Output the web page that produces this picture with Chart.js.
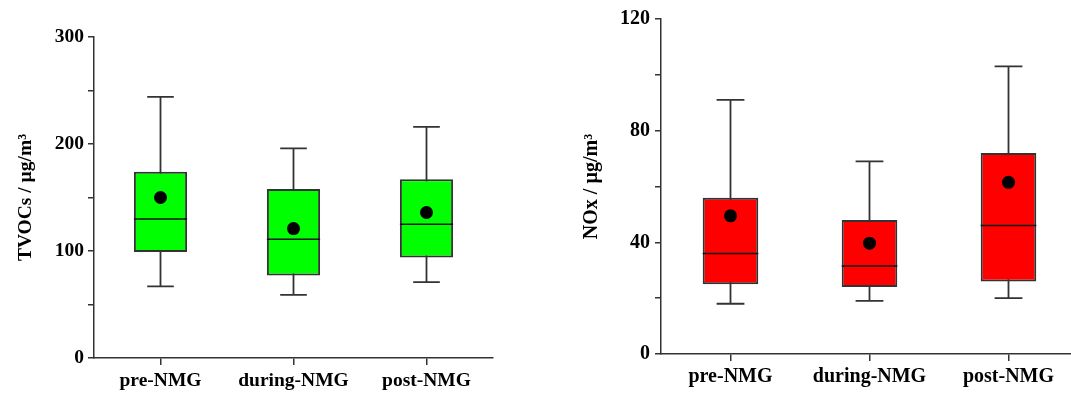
<!DOCTYPE html>
<html>
<head>
<meta charset="utf-8">
<script src="https://cdn.jsdelivr.net/npm/chart.js@4.4.0/dist/chart.umd.min.js"></script>
<style>
    html, body { margin: 0; padding: 0; background: #fff; overflow: hidden; width: 1071px; height: 396px; }
    #tvocChart { position: absolute; left: 0; top: 0; }
    #noxChart { position: absolute; left: 560px; top: 0; }
</style>
</head>
<body>
<canvas id="tvocChart" width="560" height="396"></canvas>
<canvas id="noxChart" width="530" height="396"></canvas>
<script>
// ── Data ──
const PERIODS = ['pre-NMG', 'during-NMG', 'post-NMG'];

const TVOC_MIN = [67, 59, 71];
const TVOC_Q1 = [99, 77, 94];
const TVOC_MEDIAN = [130, 111, 125];
const TVOC_Q3 = [174, 158, 167];
const TVOC_MAX = [244, 196, 216];
const TVOC_MEAN = [150, 121, 136];
const TVOC_TICKS = [0, 100, 200, 300];

const NOX_MIN = [18, 19, 20];
const NOX_Q1 = [25, 24, 26];
const NOX_MEDIAN = [36, 31.5, 46];
const NOX_Q3 = [56, 48, 72];
const NOX_MAX = [91, 69, 103];
const NOX_MEAN = [49.5, 39.7, 61.5];
const NOX_TICKS = [0, 40, 80, 120];

const AXIS = '#333';
const SERIF = "'Liberation Serif', 'Times New Roman', serif";

// ── Whiskers + median lines on top of floating bars ──
const boxExtras = {
    id: 'boxExtras',
    beforeDatasetsDraw(chart, args, opts) {
        const meta = chart.getDatasetMeta(0);
        const y = chart.scales.y;
        const ctx = chart.ctx;
        ctx.save();
        ctx.strokeStyle = AXIS;
        ctx.lineWidth = 1.8;
        meta.data.forEach((bar, i) => {
            const top = y.getPixelForValue(opts.max[i]);
            const bot = y.getPixelForValue(opts.min[i]);
            const half = bar.width / 4;
            ctx.beginPath();
            ctx.moveTo(bar.x, top); ctx.lineTo(bar.x, bot);
            ctx.moveTo(bar.x - half, top); ctx.lineTo(bar.x + half, top);
            ctx.moveTo(bar.x - half, bot); ctx.lineTo(bar.x + half, bot);
            ctx.stroke();
        });
        ctx.restore();
    },
    afterDatasetDraw(chart, args, opts) {
        if (args.index !== 0) return;
        const meta = chart.getDatasetMeta(0);
        const y = chart.scales.y;
        const ctx = chart.ctx;
        ctx.save();
        ctx.strokeStyle = '#111';
        ctx.lineWidth = 1.5;
        meta.data.forEach((bar, i) => {
            const py = y.getPixelForValue(opts.median[i]);
            ctx.beginPath();
            ctx.moveTo(bar.x - bar.width / 2, py);
            ctx.lineTo(bar.x + bar.width / 2, py);
            ctx.stroke();
        });
        ctx.restore();
    }
};

function makeBoxChart(id, cfg) {
    const ctx = document.getElementById(id).getContext('2d');
    return new Chart(ctx, {
        type: 'bar',
        data: {
            labels: PERIODS,
            datasets: [
                {
                    data: PERIODS.map((_, i) => [cfg.q1[i], cfg.q3[i]]),
                    backgroundColor: cfg.fill,
                    borderColor: AXIS,
                    borderWidth: 2,
                    borderSkipped: false,
                    barPercentage: 0.4,
                    categoryPercentage: 1.0,
                    order: 1,
                },
                {
                    type: 'line',
                    data: cfg.mean,
                    showLine: false,
                    pointRadius: 6.5,
                    pointBackgroundColor: '#000',
                    pointBorderWidth: 0,
                    order: 0,
                }
            ]
        },
        options: {
            responsive: false,
            animation: false,
            layout: { padding: cfg.padding },
            plugins: {
                legend: { display: false },
                tooltip: { enabled: false },
                boxExtras: { min: cfg.min, max: cfg.max, median: cfg.median },
            },
            scales: {
                x: {
                    offset: true,
                    grid: { offset: false, drawOnChartArea: false, tickLength: 7, color: AXIS, lineWidth: 1.5 },
                    border: { color: AXIS, width: 1.5 },
                    ticks: { color: '#000', padding: 4, font: { family: SERIF, size: cfg.fontSize, weight: 'bold' } },
                    afterFit: s => { s.height = cfg.xHeight; }
                },
                y: {
                    min: 0,
                    max: cfg.ticks[cfg.ticks.length - 1],
                    grid: { drawOnChartArea: false, tickLength: 6, color: AXIS, lineWidth: 1.5 },
                    border: { color: AXIS, width: 1.5 },
                    ticks: {
                        stepSize: cfg.ticks[1] / 2,
                        color: '#000',
                        padding: cfg.tickPad,
                        font: { family: SERIF, size: cfg.fontSize, weight: 'bold' },
                        callback: v => cfg.ticks.includes(v) ? v : ''
                    },
                    title: {
                        display: true,
                        text: cfg.title,
                        color: '#000',
                        padding: { top: cfg.titlePad, bottom: 0 },
                        font: { family: SERIF, size: cfg.fontSize, weight: 'bold' }
                    },
                    afterFit: s => { s.width = cfg.yWidth; }
                }
            }
        },
        plugins: [boxExtras]
    });
}

makeBoxChart('tvocChart', {
    min: TVOC_MIN, q1: TVOC_Q1, median: TVOC_MEDIAN, q3: TVOC_Q3, max: TVOC_MAX, mean: TVOC_MEAN,
    ticks: TVOC_TICKS, fill: '#00ff00', title: 'TVOCs / µg/m³',
    padding: { top: 37, right: 67, left: 0, bottom: 0 },
    xHeight: 38, yWidth: 94, fontSize: 19.5, tickPad: 4, titlePad: 14
});

makeBoxChart('noxChart', {
    min: NOX_MIN, q1: NOX_Q1, median: NOX_MEDIAN, q3: NOX_Q3, max: NOX_MAX, mean: NOX_MEAN,
    ticks: NOX_TICKS, fill: '#ff0000', title: 'NOx / µg/m³',
    padding: { top: 19, right: 12, left: 0, bottom: 0 },
    xHeight: 42, yWidth: 101, fontSize: 20, tickPad: 5, titlePad: 20
});
</script>
</body>
</html>
